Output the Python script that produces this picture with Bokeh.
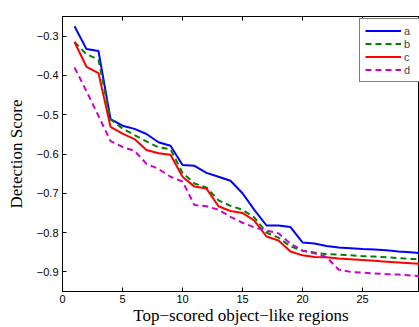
from bokeh.plotting import figure
from bokeh.models import FixedTicker, Range1d, Legend, LegendItem, LinearAxis
from bokeh.embed import file_html
from bokeh.resources import INLINE

x = list(range(1, 31))
a = [-0.275, -0.333, -0.338, -0.511, -0.528, -0.536, -0.549, -0.570, -0.579, -0.628,
     -0.630, -0.648, -0.658, -0.668, -0.700, -0.743, -0.782, -0.782, -0.786, -0.825,
     -0.828, -0.834, -0.838, -0.840, -0.842, -0.843, -0.845, -0.848, -0.850, -0.853]
b = [-0.315, -0.346, -0.360, -0.512, -0.535, -0.552, -0.568, -0.583, -0.588, -0.648,
     -0.675, -0.685, -0.718, -0.732, -0.742, -0.762, -0.800, -0.813, -0.835, -0.846,
     -0.851, -0.855, -0.856, -0.858, -0.860, -0.861, -0.863, -0.865, -0.867, -0.868]
c = [-0.315, -0.378, -0.394, -0.531, -0.548, -0.562, -0.590, -0.598, -0.602, -0.658,
     -0.683, -0.688, -0.733, -0.745, -0.750, -0.770, -0.810, -0.820, -0.848, -0.858,
     -0.862, -0.863, -0.866, -0.868, -0.870, -0.872, -0.874, -0.876, -0.878, -0.880]
d = [-0.380, -0.440, -0.503, -0.567, -0.582, -0.592, -0.625, -0.638, -0.658, -0.670,
     -0.730, -0.733, -0.742, -0.760, -0.775, -0.787, -0.795, -0.802, -0.828, -0.846,
     -0.853, -0.862, -0.894, -0.900, -0.902, -0.904, -0.906, -0.907, -0.909, -0.911]
names = ["a", "b", "c", "d"]
x_ticks = [0, 5, 10, 15, 20, 25, 30]
x_tick_labels = ["0", "5", "10", "15", "20", "25", "30"]
y_ticks = [-0.9, -0.8, -0.7, -0.6, -0.5, -0.4, -0.3]
y_tick_labels = ["\u22120.9", "\u22120.8", "\u22120.7", "\u22120.6", "\u22120.5", "\u22120.4", "\u22120.3"]

p = figure(width=419, height=327, output_backend="svg", toolbar_location=None,
           x_range=Range1d(0, 29.75), y_range=Range1d(-0.95, -0.25),
           min_border_left=62, min_border_right=0, min_border_top=16, min_border_bottom=35)
p.xgrid.visible = False
p.ygrid.visible = False
p.outline_line_color = "black"
p.outline_line_width = 1
p.background_fill_color = "white"
p.border_fill_color = "white"

sans = "Liberation Sans"
serif = "Liberation Serif"

p.xaxis.ticker = FixedTicker(ticks=x_ticks)
p.xaxis.major_label_overrides = {t: l for t, l in zip(x_ticks, x_tick_labels)}
p.yaxis.ticker = FixedTicker(ticks=y_ticks)
p.yaxis.major_label_overrides = {t: l for t, l in zip(y_ticks, y_tick_labels)}
for ax in (p.xaxis[0], p.yaxis[0]):
    ax.major_tick_in = 4
    ax.major_tick_out = 0
    ax.minor_tick_line_color = None
    ax.axis_line_color = "black"
    ax.major_label_text_font = sans
    ax.major_label_text_font_size = "11px"
    ax.major_label_text_color = "black"
    ax.axis_label_text_font = serif
    ax.axis_label_text_font_size = "17px"
    ax.axis_label_text_font_style = "normal"
    ax.axis_label_text_color = "black"
p.xaxis.axis_label = "Top\u2212scored object\u2212like regions"
p.yaxis.axis_label = "Detection Score"
p.xaxis.major_label_standoff = 3
p.xaxis.axis_label_standoff = 0
p.yaxis.major_label_standoff = 4
p.yaxis.axis_label_standoff = 8

# top box edge ticks (inward, no labels)
top = LinearAxis(ticker=FixedTicker(ticks=x_ticks), major_tick_in=4, major_tick_out=0,
                 minor_tick_line_color=None, axis_line_color="black",
                 major_label_text_alpha=0, major_label_text_font_size="11px",
                 major_label_standoff=0)
p.add_layout(top, "above")

r_a = p.line(x, a, line_color="#0000FF", line_width=2)
r_b = p.line(x, b, line_color="#008000", line_width=2, line_dash="6 4")
r_c = p.line(x, c, line_color="#FF0000", line_width=2)
r_d = p.line(x, d, line_color="#CC00CC", line_width=2, line_dash="6 4")

legend = Legend(items=[LegendItem(label=n, renderers=[r]) for n, r in zip(names, [r_a, r_b, r_c, r_d])],
                location=(297, 209), padding=5, spacing=0, glyph_width=36, glyph_height=13,
                label_height=13, label_standoff=3, label_text_font=sans,
                label_text_font_size="11px", border_line_color="black", border_line_width=1,
                background_fill_alpha=1, margin=0)
p.add_layout(legend)

open("out.html", "w").write(file_html(p, INLINE))
